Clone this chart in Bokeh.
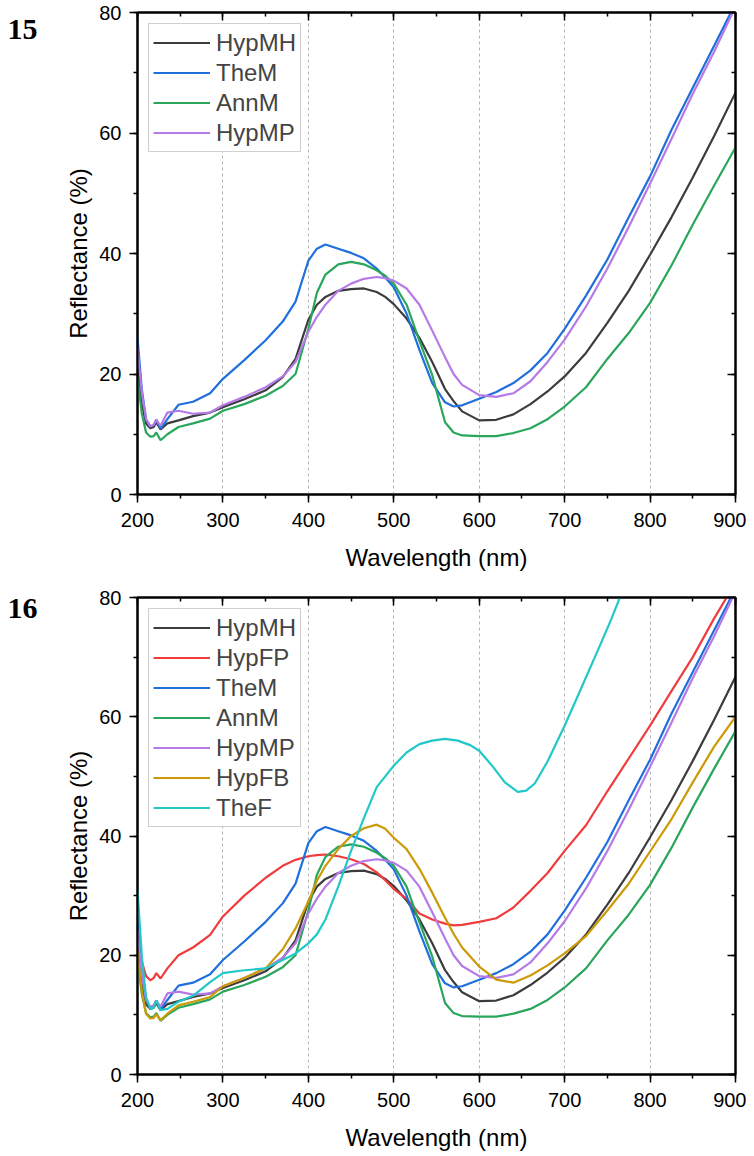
from bokeh.plotting import figure
from bokeh.models import Range1d, LinearAxis, Legend, LegendItem, Label, SingleIntervalTicker
from bokeh.layouts import column, row
from bokeh.embed import file_html
from bokeh.resources import INLINE

# ---------------- data ----------------
wl = [200, 205, 210, 215, 219, 222, 227, 235, 248, 265, 285, 300, 325, 350, 370, 385,
      400, 410, 420, 435, 450, 465, 480, 490, 500, 515, 530, 545, 560, 570, 580, 600,
      620, 640, 660, 680, 700, 725, 750, 775, 800, 825, 850, 875, 900]

hyp_mh = [21.5, 15.0, 11.8, 11.0, 11.2, 12.0, 10.8, 11.8, 12.3, 13.0, 13.6, 14.5, 15.8, 17.3, 19.5, 22.5,
          29.0, 31.5, 32.8, 33.8, 34.1, 34.2, 33.6, 32.8, 31.6, 29.2, 26.0, 22.0, 17.5, 15.5, 13.8, 12.3,
          12.4, 13.3, 15.0, 17.1, 19.6, 23.5, 28.5, 33.8, 39.8, 46.0, 52.6, 59.5, 66.7]

hyp_fp = [22.0, 19.0, 16.5, 15.8, 16.2, 17.0, 16.1, 17.8, 20.0, 21.3, 23.4, 26.5, 30.0, 33.0, 35.0, 36.0,
          36.6, 36.8, 36.9, 36.6, 36.1, 35.3, 33.9, 32.6, 31.1, 29.5, 27.0, 26.0, 25.3, 25.0, 25.1, 25.6,
          26.2, 28.0, 30.8, 33.8, 37.5, 41.8, 47.5, 53.0, 58.5, 64.3, 70.0, 76.5, 82.5]

the_m = [26.0, 17.5, 12.5, 11.3, 11.5, 12.4, 10.9, 12.5, 14.9, 15.4, 16.8, 19.2, 22.3, 25.6, 28.7, 32.0,
         38.8, 40.8, 41.5, 40.8, 40.1, 39.2, 37.5, 36.0, 34.4, 30.0, 24.0, 18.5, 15.3, 14.6, 14.8, 15.9,
         17.0, 18.5, 20.6, 23.5, 27.5, 33.0, 39.0, 46.0, 52.8, 60.5, 67.5, 74.5, 81.5]

ann_m = [19.3, 13.5, 10.3, 9.6, 9.7, 10.3, 9.0, 10.0, 11.2, 11.8, 12.6, 13.9, 15.0, 16.4, 18.0, 20.0,
         27.5, 33.5, 36.5, 38.2, 38.6, 38.2, 37.2, 36.3, 35.0, 31.5, 25.5, 19.8, 12.0, 10.3, 9.8, 9.7,
         9.7, 10.2, 11.0, 12.5, 14.6, 17.8, 22.5, 26.8, 31.8, 38.0, 44.8, 51.3, 57.6]

hyp_mp = [24.3, 17.0, 12.5, 11.3, 11.6, 12.4, 11.4, 13.6, 13.9, 13.4, 13.6, 14.8, 16.2, 17.8, 19.6, 22.0,
          27.0, 29.5, 31.5, 33.8, 35.0, 35.8, 36.1, 35.9, 35.5, 34.2, 31.5, 27.2, 22.8, 20.0, 18.2, 16.5,
          16.2, 16.8, 18.8, 22.0, 25.7, 31.2, 37.5, 44.4, 51.6, 59.0, 66.5, 73.5, 81.0]

hyp_fb = [20.6, 14.0, 10.2, 9.4, 9.5, 10.1, 9.1, 10.2, 11.6, 12.2, 13.0, 14.8, 16.2, 17.8, 21.0, 24.5,
          29.0, 32.5, 35.0, 37.8, 40.0, 41.3, 41.9, 41.2, 39.7, 37.8, 34.5, 30.5, 26.3, 23.6, 21.3, 18.1,
          15.9, 15.4, 16.6, 18.3, 20.3, 23.2, 27.5, 32.0, 37.4, 42.8, 49.0, 55.0, 60.0]

wl_thef = [200, 205, 210, 215, 219, 222, 227, 235, 248, 265, 285, 300, 320, 350, 370, 385, 400, 410,
           420, 435, 450, 465, 480, 500, 515, 530, 545, 560, 575, 590, 600, 615, 630, 645, 655, 665,
           680, 700, 720, 740, 755, 766]
the_f = [31.0, 20.0, 13.0, 11.0, 11.2, 12.4, 10.8, 11.0, 12.2, 13.2, 15.5, 17.0, 17.4, 17.8, 19.2, 20.3, 22.0, 23.5,
         26.0, 31.5, 37.5, 43.0, 48.2, 51.8, 54.0, 55.4, 56.0, 56.3, 56.0, 55.2, 54.3, 51.8, 49.0, 47.4, 47.6, 48.8,
         52.5, 58.5, 65.0, 71.5, 76.5, 80.5]

colors = {
    "HypMH": "#3c3c3c",
    "HypFP": "#f03c3c",
    "TheM": "#1f6fdc",
    "AnnM": "#2aa65c",
    "HypMP": "#b57ae6",
    "HypFB": "#cc9a06",
    "TheF": "#22c8c8",
}

panel15 = [("HypMH", wl, hyp_mh), ("TheM", wl, the_m), ("AnnM", wl, ann_m), ("HypMP", wl, hyp_mp)]
panel16 = [("HypMH", wl, hyp_mh), ("HypFP", wl, hyp_fp), ("TheM", wl, the_m), ("AnnM", wl, ann_m),
           ("HypMP", wl, hyp_mp), ("HypFB", wl, hyp_fb), ("TheF", wl_thef, the_f)]

FONT = "Liberation Sans"
TAG_W = 44
FRAME_H = 482


def make_tag(tag, height, border_top, center_from_top):
    # the frame of this figure is aligned with the frame of the neighbouring plot
    t = figure(width=TAG_W, height=height, x_range=Range1d(0, 1), y_range=Range1d(0, 1),
               output_backend="svg", toolbar_location=None, x_axis_type=None, y_axis_type=None,
               min_border_left=0, min_border_right=0, min_border_top=border_top,
               min_border_bottom=height - border_top - FRAME_H)
    t.outline_line_color = None
    t.xgrid.visible = False
    t.ygrid.visible = False
    frame_bottom = border_top + FRAME_H
    t.add_layout(Label(x=22, y=frame_bottom - center_from_top, x_units="screen", y_units="screen",
                       text=tag, text_font="Liberation Serif", text_font_style="bold",
                       text_font_size="30px", text_align="center", text_baseline="middle",
                       text_color="black"))
    return t


def make_panel(series, height, border_top):
    p = figure(width=746 - TAG_W, height=height, x_range=Range1d(200, 900), y_range=Range1d(0, 80),
               output_backend="svg", toolbar_location=None,
               min_border_left=137 - TAG_W, min_border_right=11, min_border_top=border_top,
               min_border_bottom=height - border_top - FRAME_H,
               x_axis_label="Wavelength (nm)", y_axis_label="Reflectance (%)")
    p.outline_line_color = "black"
    p.outline_line_width = 2
    p.background_fill_color = "white"
    p.border_fill_color = "white"

    xt = SingleIntervalTicker(interval=100, num_minor_ticks=2)
    yt = SingleIntervalTicker(interval=20, num_minor_ticks=2)
    p.xaxis.ticker = xt
    p.yaxis.ticker = yt
    p.xgrid.ticker = xt
    p.xgrid.grid_line_color = "#b4b4b4"
    p.xgrid.grid_line_dash = "3 3"
    p.xgrid.grid_line_width = 1
    p.ygrid.visible = False

    for ax in (p.xaxis[0], p.yaxis[0]):
        ax.axis_line_width = 2
        ax.major_tick_line_width = 1.5
        ax.minor_tick_line_width = 1.5
        ax.major_tick_out = 8
        ax.major_tick_in = 0
        ax.minor_tick_out = 4
        ax.minor_tick_in = 0
        ax.major_label_text_font = FONT
        ax.major_label_text_font_size = "20px"
        ax.major_label_text_color = "black"
        ax.axis_label_text_font = FONT
        ax.axis_label_text_font_size = "24px"
        ax.axis_label_text_font_style = "normal"
        ax.axis_label_text_color = "black"
    p.xaxis[0].major_label_standoff = 10
    p.xaxis[0].axis_label_standoff = 14
    p.yaxis[0].major_label_standoff = 8
    p.yaxis[0].axis_label_standoff = 4

    top = LinearAxis(ticker=xt, major_tick_in=8, major_tick_out=0, minor_tick_in=4, minor_tick_out=0,
                     major_label_text_font_size="1px", major_label_text_color=None,
                     major_label_standoff=0, axis_line_width=2,
                     major_tick_line_width=1.5, minor_tick_line_width=1.5)
    right = LinearAxis(ticker=yt, major_tick_in=8, major_tick_out=0, minor_tick_in=4, minor_tick_out=0,
                       major_label_text_font_size="1px", major_label_text_color=None,
                       major_label_standoff=0, axis_line_width=2,
                       major_tick_line_width=1.5, minor_tick_line_width=1.5)
    p.add_layout(top, "above")
    p.add_layout(right, "right")

    items = []
    for name, xs, ys in series:
        r = p.line(xs, ys, line_color=colors[name], line_width=2.2)
        items.append(LegendItem(label=name, renderers=[r]))

    legend = Legend(items=items, location="top_left", margin=11,
                    label_text_font=FONT, label_text_font_size="24px",
                    glyph_width=57, glyph_height=29, label_height=29, spacing=1,
                    padding=4, label_standoff=6,
                    border_line_color="#a0a0a0", border_line_width=1,
                    background_fill_color="white", background_fill_alpha=1.0)
    p.add_layout(legend, "center")
    return p


H1, H2 = 575, 578
p1 = make_panel(panel15, H1, 12)
p2 = make_panel(panel16, H2, 22)
t1 = make_tag("15", H1, 12, 29)
t2 = make_tag("16", H2, 22, 613 - H1)

layout = column(row(t1, p1, spacing=0), row(t2, p2, spacing=0), spacing=0)
open("out.html", "w").write(file_html(layout, INLINE))
